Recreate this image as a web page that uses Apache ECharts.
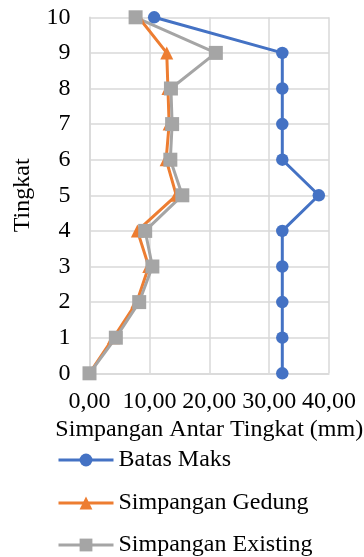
<!DOCTYPE html>
<html>
<head>
<meta charset="utf-8">
<script src="https://cdn.jsdelivr.net/npm/echarts@6/dist/echarts.min.js"></script>
<style>
html,body{margin:0;padding:0;background:#fff;}
#chart{width:364px;height:557px;}
</style>
</head>
<body>
<div id="chart"></div>
<script>
const levels = [0, 1, 2, 3, 4, 5, 6, 7, 8, 9, 10];
const batasMaks = [32.2, 32.2, 32.2, 32.2, 32.2, 38.3, 32.2, 32.2, 32.2, 32.2, 10.8];
const simpanganGedung = [0, 4.0, 7.9, 9.9, 8.0, 14.5, 12.8, 13.3, 13.1, 12.9, 8.2];
const simpanganExisting = [0, 4.4, 8.3, 10.5, 9.3, 15.5, 13.5, 13.8, 13.6, 21.1, 7.7];
const seriesNames = ['Batas Maks', 'Simpangan Gedung', 'Simpangan Existing'];
const xTickValues = [0, 10, 20, 30, 40];
const xTickLabels = ['0,00', '10,00', '20,00', '30,00', '40,00'];
const xAxisTitle = 'Simpangan Antar Tingkat (mm)';
const yAxisTitle = 'Tingkat';

const FONT = '"Liberation Serif", "Times New Roman", serif';
const FS = 24;
const gridColor = '#d9d9d9';

function pairs(vals) { return vals.map((v, i) => [v, levels[i]]); }

const legendTops = [448, 491, 533];
const legends = seriesNames.map((n, i) => ({
  orient: 'vertical', left: 57, top: legendTops[i], padding: 0,
  itemWidth: 55, itemHeight: 16,
  lineStyle: {width: 3},
  textStyle: {fontFamily: FONT, fontSize: FS, color: '#000'},
  data: [n]
}));

const chart = echarts.init(document.getElementById('chart'), null, {renderer: 'canvas'});
chart.setOption({
  animation: false,
  textStyle: {fontFamily: FONT, color: '#000'},
  grid: {left: 89.5, right: 35, top: 17.3, bottom: 183.7, containLabel: false, outerBoundsMode: 'none'},
  xAxis: {
    type: 'value', min: 0, max: 40, interval: 10,
    name: xAxisTitle, nameLocation: 'middle', nameGap: 39,
    nameTextStyle: {fontFamily: FONT, fontSize: FS, color: '#000'},
    axisLine: {show: true, onZero: false, lineStyle: {color: gridColor, width: 1.5}},
    axisTick: {show: false},
    splitLine: {show: true, lineStyle: {color: gridColor, width: 1.5}},
    axisLabel: {
      fontFamily: FONT, fontSize: FS, color: '#000', margin: 16,
      formatter: v => xTickLabels[xTickValues.indexOf(v)]
    }
  },
  yAxis: {
    type: 'value', min: 0, max: 10, interval: 1,
    name: yAxisTitle, nameLocation: 'middle', nameGap: 55,
    nameTextStyle: {fontFamily: FONT, fontSize: FS, color: '#000'},
    axisLine: {show: true, lineStyle: {color: gridColor, width: 1.5}},
    axisTick: {show: false},
    splitLine: {show: true, lineStyle: {color: gridColor, width: 1.5}},
    axisLabel: {fontFamily: FONT, fontSize: FS, color: '#000', margin: 19}
  },
  legend: legends,
  series: [
    {
      name: seriesNames[0], type: 'line', data: pairs(batasMaks),
      symbol: 'circle', symbolSize: 12.5,
      lineStyle: {color: '#4472C4', width: 3},
      itemStyle: {color: '#4472C4'}
    },
    {
      name: seriesNames[1], type: 'line', data: pairs(simpanganGedung),
      symbol: 'triangle', symbolSize: 13,
      lineStyle: {color: '#ED7D31', width: 3},
      itemStyle: {color: '#ED7D31'}
    },
    {
      name: seriesNames[2], type: 'line', data: pairs(simpanganExisting),
      symbol: 'rect', symbolSize: 14,
      lineStyle: {color: '#A5A5A5', width: 3},
      itemStyle: {color: '#A5A5A5'}
    }
  ]
});
</script>
</body>
</html>
